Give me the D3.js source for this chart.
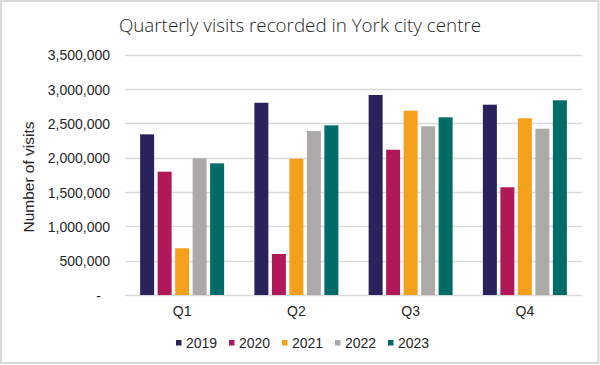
<!DOCTYPE html>
<html>
<head>
<meta charset="utf-8">
<script src="https://cdn.jsdelivr.net/npm/d3@7"></script>
<style>
  html, body { margin: 0; padding: 0; background: #fff; }
  svg { display: block; }
</style>
</head>
<body>
<svg id="chart" width="600" height="365"></svg>
<script>
const quarters = ["Q1", "Q2", "Q3", "Q4"];
const years = ["2019", "2020", "2021", "2022", "2023"];
const visits2019 = [2340000, 2800000, 2913000, 2772000];
const visits2020 = [1796000, 597000, 2116000, 1569000];
const visits2021 = [680000, 1985000, 2684000, 2574000];
const visits2022 = [1991000, 2389000, 2457000, 2422000];
const visits2023 = [1918000, 2471000, 2588000, 2836000];
const yTicks = [0, 500000, 1000000, 1500000, 2000000, 2500000, 3000000, 3500000];
const colors = ["#29225c", "#b0185a", "#f5a01a", "#abaaa9", "#006c68"];

const seriesValues = [visits2019, visits2020, visits2021, visits2022, visits2023];
const data = quarters.map((q, qi) => ({
  quarter: q,
  values: years.map((y, yi) => ({ year: y, value: seriesValues[yi][qi] }))
}));

const svg = d3.select("#chart");
const font = "'Liberation Sans', Arial, sans-serif";
const textColor = "#262626";

// border
svg.append("rect")
  .attr("x", 1).attr("y", 1).attr("width", 597.5).attr("height", 362)
  .attr("fill", "#fff").attr("stroke", "#d9d9d9").attr("stroke-width", 2);

const plotLeft = 125, plotRight = 582, plotTop = 54.7, plotBottom = 295;

const y = d3.scaleLinear().domain([0, 3500000]).range([plotBottom, plotTop]);
const x0 = d3.scaleBand().domain(quarters).range([plotLeft, plotRight])
  .paddingInner(0.265).paddingOuter(0.1325);
const x1 = d3.scaleBand().domain(years).range([0, x0.bandwidth()]).paddingInner(0.2);
const color = d3.scaleOrdinal().domain(years).range(colors);

// gridlines
svg.append("g")
  .selectAll("line").data(yTicks).join("line")
  .attr("x1", plotLeft).attr("x2", plotRight)
  .attr("y1", d => Math.round(y(d)) + 0.5).attr("y2", d => Math.round(y(d)) + 0.5)
  .attr("stroke", "#d9d9d9").attr("stroke-width", 1.3);

// y axis labels
const yAxis = d3.axisLeft(y).tickValues(yTicks)
  .tickFormat(d => d === 0 ? "-" : d3.format(",")(d))
  .tickSize(0).tickPadding(0);
const yg = svg.append("g").attr("transform", `translate(110,0)`).call(yAxis);
yg.select(".domain").remove();
yg.selectAll("text")
  .attr("font-family", font).attr("font-size", 14).attr("fill", textColor)
  .attr("dy", "0.36em")
  .attr("x", d => d === 0 ? -9 : 0);

// x axis labels
const xAxis = d3.axisBottom(x0).tickSize(0).tickPadding(0);
const xg = svg.append("g").attr("transform", `translate(0,${plotBottom})`).call(xAxis);
xg.select(".domain").remove();
xg.selectAll("text")
  .attr("font-family", font).attr("font-size", 14).attr("fill", textColor)
  .attr("y", 21).attr("dy", 0);

// bars
svg.append("g")
  .selectAll("g").data(data).join("g")
  .attr("transform", d => `translate(${x0(d.quarter)},0)`)
  .selectAll("rect").data(d => d.values).join("rect")
  .attr("x", d => x1(d.year))
  .attr("width", x1.bandwidth())
  .attr("y", d => y(d.value))
  .attr("height", d => y(0) - y(d.value))
  .attr("fill", d => color(d.year));

// title
svg.append("text")
  .attr("x", 300).attr("y", 32)
  .attr("text-anchor", "middle")
  .attr("font-family", "'Open Sans', sans-serif")
  .attr("font-weight", 300)
  .attr("font-size", 18.8)
  .attr("fill", textColor)
  .text("Quarterly visits recorded in York city centre");

// y axis title
svg.append("text")
  .attr("transform", "translate(34,177) rotate(-90)")
  .attr("text-anchor", "middle")
  .attr("font-family", font).attr("font-size", 15.5).attr("fill", textColor)
  .text("Number of visits");

// legend
const legend = svg.append("g").selectAll("g").data(years).join("g")
  .attr("transform", (d, i) => `translate(${176 + i * 53},0)`);
legend.append("rect")
  .attr("x", 0).attr("y", 340).attr("width", 5.5).attr("height", 5.5)
  .attr("fill", d => color(d));
legend.append("text")
  .attr("x", 10).attr("y", 347.5)
  .attr("font-family", font).attr("font-size", 14).attr("fill", textColor)
  .text(d => d);
</script>
</body>
</html>
